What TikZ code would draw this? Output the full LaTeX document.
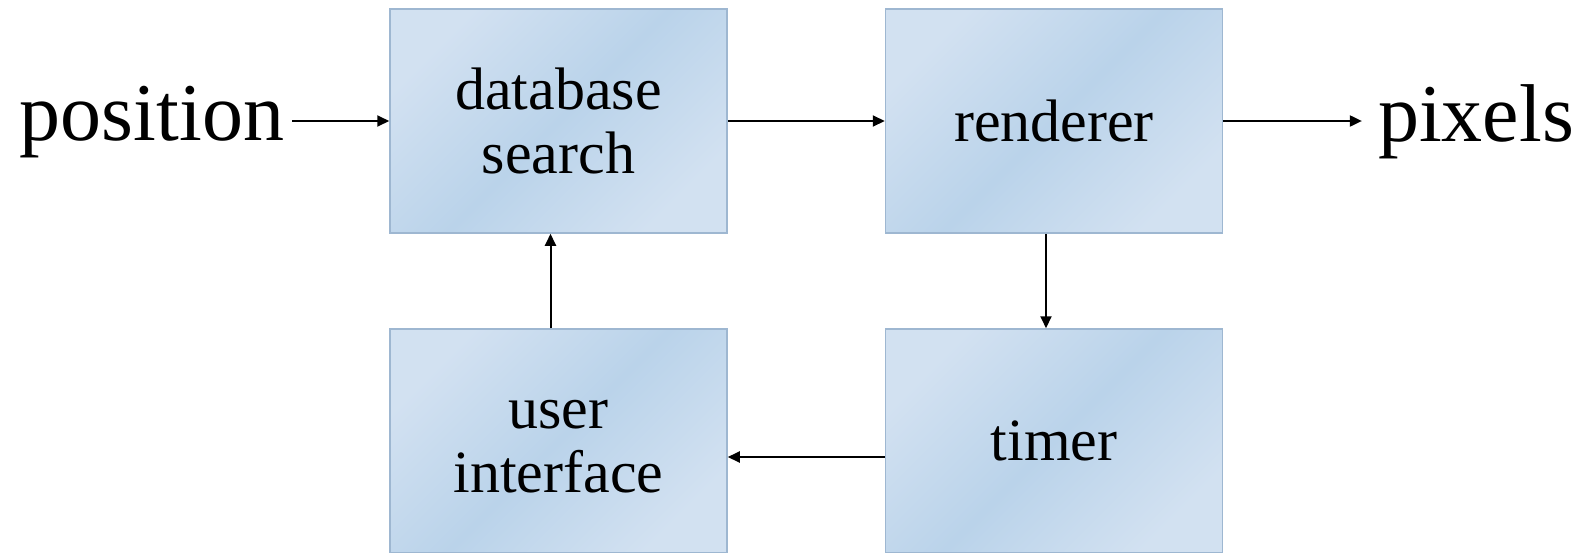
\documentclass[tikz,border=0pt]{standalone}
\usepackage{fontspec}
\setmainfont{Liberation Serif}
\usetikzlibrary{arrows.meta}
\definecolor{boxlight}{RGB}{210,225,241}
\definecolor{boxdark}{RGB}{186,211,234}
\definecolor{boxline}{RGB}{158,183,209}
\tikzset{
  blk/.style={rectangle, draw=boxline, line width=1.5pt,
    left color=boxlight, right color=boxlight, middle color=boxdark, shading angle=45,
    minimum width=337pt, minimum height=224pt, inner sep=0pt, align=center,
    font=\fontsize{60}{64}\selectfont},
  blktext/.style={align=center, inner sep=0pt, font=\fontsize{60}{64}\selectfont},
  lbl/.style={font=\fontsize{82}{90}\selectfont, inner ysep=0pt},
  conn/.style={line width=2pt, -{Triangle[length=12pt,width=11pt]}}
}
\begin{document}
\begin{tikzpicture}[x=1pt,y=-1pt]
\useasboundingbox (0,0) rectangle (1583,552);
\clip (0,0) rectangle (1583,552);
\node[blk] (db) at (558.5,121) {database\\search};
\node[blk] (rend) at (1054,121) {renderer};
\node[blk] (ui) at (558.5,441) {};
\node[blktext] (uitext) at ([yshift=-6pt]ui.center) {user\\interface};
\node[blk] (tim) at (1054,441) {timer};
\node[lbl, inner xsep=8pt] (pos) at (152,122) {position};
\node[lbl, inner xsep=16pt] (pix) at (1476,122) {pixels};
\draw[conn] (pos.east |- db.west) -- (db.west);
\draw[conn] (db.east) -- (rend.west);
\draw[conn] (rend.east) -- (pix.west |- rend.east);
\draw[conn] ([xshift=-8pt]rend.south) -- ([xshift=-8pt]tim.north);
\draw[conn] ([yshift=-16pt]tim.west) -- ([yshift=-16pt]ui.east);
\draw[conn] ([xshift=-8pt]ui.north) -- ([xshift=-8pt]db.south);
\end{tikzpicture}
\end{document}
